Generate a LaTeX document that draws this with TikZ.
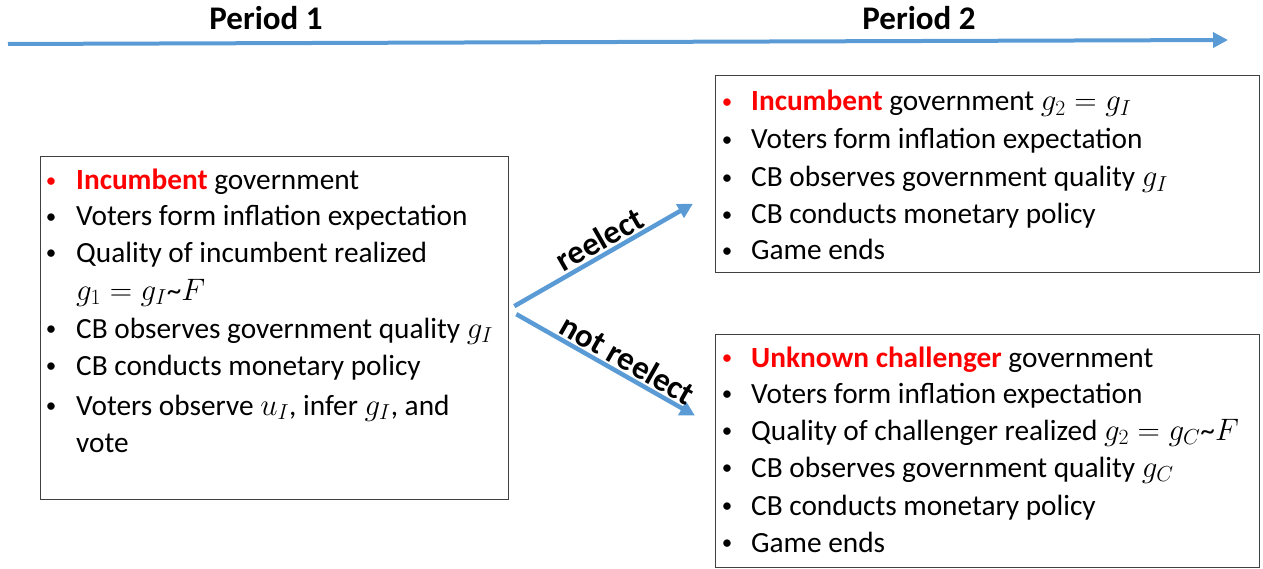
\documentclass[tikz,border=0pt]{standalone}
\usepackage{fix-cm}
\usepackage[no-math]{fontspec}
\setmainfont{Carlito}
\usetikzlibrary{arrows.meta}
\definecolor{arrowblue}{HTML}{5B9BD5}
\definecolor{hired}{HTML}{FF0000}
\newcommand{\mth}[1]{{\fontsize{31}{34}\selectfont$#1$}}
\newcommand{\tld}{\textasciitilde}
\begin{document}
\begin{tikzpicture}[x=1pt,y=-1pt,
  txt/.style={anchor=base west,inner sep=0pt,font=\fontsize{29.3}{34}\selectfont},
  bul/.style={anchor=base,inner sep=0pt,yshift=2.6pt,font=\fontsize{21}{24}\selectfont},
  redbul/.style={bul,text=hired},
  box/.style={draw=black!75,line width=1.3pt,inner sep=0pt},
  flow/.style={draw=arrowblue,line width=4.5pt,-{Triangle[length=15pt,width=15pt]}},
  period/.style={anchor=base,inner sep=0pt,font=\bfseries\fontsize{33}{40}\selectfont},
  lab/.style={inner sep=2pt,font=\bfseries\fontsize{33}{38}\selectfont}]
\useasboundingbox (0,0) rectangle (1263,569);

% timeline
\node[period] (p1) at (266,30) {Period 1};
\node[period] (p2) at (919,30) {Period 2};
\coordinate (t0) at (8,44);
\coordinate (t1) at (1228,40);
\draw[flow,line width=4pt] (t0) -- (t1);

% boxes
\node[box,anchor=north west,minimum width=468,minimum height=343] (B1) at (40,156) {};
\node[box,anchor=north west,minimum width=544,minimum height=197] (B2) at (715,75) {};
\node[box,anchor=north west,minimum width=544,minimum height=233] (B3) at (715,334) {};

% left box text
\node[redbul] (b1a) at (51,190) {\textbullet};
\node[txt] (l1a) at (76,190) {\textcolor{hired}{\bfseries Incumbent} government};
\node[bul] (b1b) at (51,226) {\textbullet};
\node[txt] (l1b) at (76,226) {Voters form inflation expectation};
\node[bul] (b1c) at (51,262) {\textbullet};
\node[txt] (l1c) at (76,262) {Quality of incumbent realized};
\node[txt] (l1d) at (76,300) {\mth{g_1 = g_I}\tld\mth{F}};
\node[bul] (b1e) at (51,338) {\textbullet};
\node[txt] (l1e) at (76,338) {CB observes government quality \mth{g_I}};
\node[bul] (b1f) at (51,375) {\textbullet};
\node[txt] (l1f) at (76,375) {CB conducts monetary policy};
\node[bul] (b1g) at (51,415) {\textbullet};
\node[txt] (l1g) at (76,415) {Voters observe \mth{u_I}, infer \mth{g_I}, and};
\node[txt] (l1h) at (76,452) {vote};

% upper right box text
\node[redbul] (b2a) at (727,111) {\textbullet};
\node[txt] (l2a) at (751,111) {\textcolor{hired}{\bfseries Incumbent} government \mth{g_2 = g_I}};
\node[bul] (b2b) at (727,149) {\textbullet};
\node[txt] (l2b) at (751,149) {Voters form inflation expectation};
\node[bul] (b2c) at (727,187) {\textbullet};
\node[txt] (l2c) at (751,187) {CB observes government quality \mth{g_I}};
\node[bul] (b2d) at (727,224) {\textbullet};
\node[txt] (l2d) at (751,224) {CB conducts monetary policy};
\node[bul] (b2e) at (727,260) {\textbullet};
\node[txt] (l2e) at (751,260) {Game ends};

% lower right box text
\node[redbul] (b3a) at (727,367) {\textbullet};
\node[txt] (l3a) at (751,367) {\textcolor{hired}{\bfseries Unknown challenger} government};
\node[bul] (b3b) at (727,403) {\textbullet};
\node[txt] (l3b) at (751,403) {Voters form inflation expectation};
\node[bul] (b3c) at (727,440) {\textbullet};
\node[txt] (l3c) at (751,440) {Quality of challenger realized \mth{g_2 = g_C}\tld\mth{F}};
\node[bul] (b3d) at (727,477) {\textbullet};
\node[txt] (l3d) at (751,477) {CB observes government quality \mth{g_C}};
\node[bul] (b3e) at (727,515) {\textbullet};
\node[txt] (l3e) at (751,515) {CB conducts monetary policy};
\node[bul] (b3f) at (727,552) {\textbullet};
\node[txt] (l3f) at (751,552) {Game ends};

% branch arrows
\coordinate (s1) at ([shift={(5,-22)}]B1.east);
\coordinate (s2) at ([shift={(7,-14)}]B1.east);
\coordinate (e1) at ([shift={(-22,29.5)}]B2.west);
\coordinate (e2) at ([shift={(-20,-35.5)}]B3.west);
\draw[flow] (s1) -- node[lab,sloped,pos=0.52,above] (r1) {reelect} (e1);
\draw[flow] (s2) -- node[lab,sloped,pos=0.58,above] (r2) {not reelect} (e2);
\end{tikzpicture}
\end{document}
